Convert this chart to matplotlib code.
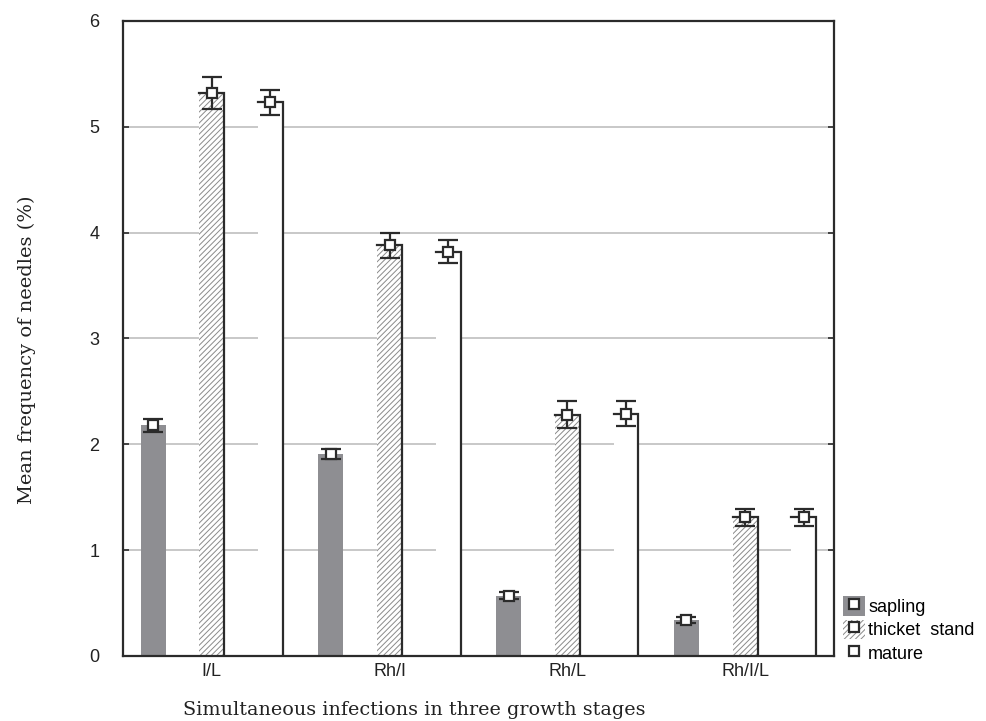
import numpy as np
import matplotlib
matplotlib.use('Agg')
import matplotlib.pyplot as plt
from matplotlib.patches import Patch
from matplotlib.lines import Line2D
from matplotlib.legend_handler import HandlerTuple

groups = ['I/L', 'Rh/I', 'Rh/L', 'Rh/I/L']
stages = ['sapling', 'thicket  stand', 'mature']
sapling = [2.18, 1.91, 0.57, 0.34]
sapling_err = [0.06, 0.05, 0.03, 0.03]
thicket = [5.32, 3.88, 2.28, 1.31]
thicket_err = [0.15, 0.12, 0.13, 0.08]
mature = [5.23, 3.82, 2.29, 1.31]
mature_err = [0.12, 0.11, 0.12, 0.08]

plt.rcParams['hatch.linewidth'] = 0.7
dark = '#2b2b2b'
grey = '#8e8e92'

fig = plt.figure(figsize=(9.86, 7.21), dpi=100)
ax = fig.add_axes([0.1247, 0.0902, 0.7211, 0.8807])

x = np.arange(len(groups))
off = 0.33
w = 0.14

ax.set_axisbelow(True)
ax.yaxis.grid(True, color='#c4c4c4', linewidth=1.3)

# sapling: grey, no outline
ax.bar(x - off, sapling, w, color=grey, linewidth=0, zorder=2)
# thicket stand: hatched
ax.bar(x, thicket, w, facecolor='white', edgecolor='#8a8a8a', hatch='//////',
       linewidth=0, zorder=2)
# mature: white
ax.bar(x + off, mature, w, facecolor='white', linewidth=0, zorder=2)

# top and right edges of thicket/mature bars
for xs, vals in [(x, thicket), (x + off, mature)]:
    for xi, v in zip(xs, vals):
        ax.plot([xi - w / 2, xi + w / 2, xi + w / 2], [v, v, 0],
                color=dark, linewidth=1.6, zorder=3, solid_joinstyle='miter')

for xs, vals, errs in [(x - off, sapling, sapling_err), (x, thicket, thicket_err),
                       (x + off, mature, mature_err)]:
    ax.errorbar(xs, vals, yerr=errs, fmt='s', color=dark, ecolor=dark,
                elinewidth=1.6, capsize=7, capthick=1.6, markersize=7.5,
                markerfacecolor='white', markeredgecolor=dark,
                markeredgewidth=1.6, zorder=4)

ax.set_xlim(-0.5, 3.5)
ax.set_ylim(0, 6)
ax.set_xticks(x)
ax.set_xticklabels(groups)
ax.set_yticks(range(0, 7))
for s in ax.spines.values():
    s.set_color(dark)
    s.set_linewidth(1.6)
ax.tick_params(axis='both', direction='in', length=4, width=1.2, color=dark,
               labelsize=13, labelcolor='#222222')
ax.tick_params(axis='y', right=True, pad=17)
ax.tick_params(axis='x', pad=5)
for lab in ax.get_xticklabels() + ax.get_yticklabels():
    lab.set_family('Liberation Sans')

ax.set_xlabel('Simultaneous infections in three growth stages',
              family='DejaVu Serif', fontsize=13.8, color='#222222')
ax.set_ylabel('Mean frequency of needles (%)',
              family='DejaVu Serif', fontsize=14, color='#222222')
ax.xaxis.set_label_coords(0.41, -0.071)
ax.yaxis.set_label_coords(-0.123, 0.482)

mk = Line2D([], [], marker='s', linestyle='', markersize=7,
            markerfacecolor='white', markeredgecolor=dark, markeredgewidth=1.6)
h1 = Patch(facecolor=grey, linewidth=0)
h2 = Patch(facecolor='white', edgecolor='#8a8a8a', hatch='//////', linewidth=0)
h3 = Patch(facecolor='white', edgecolor='white', linewidth=0)
leg = fig.legend([(h1, mk), (h2, mk), (h3, mk)], stages,
                 handler_map={tuple: HandlerTuple(ndivide=1)},
                 loc='upper left', bbox_to_anchor=(843 / 986, 1 - 596 / 721),
                 frameon=False, handlelength=1.2, handleheight=1.3,
                 handletextpad=0.2, labelspacing=0.2, borderpad=0,
                 borderaxespad=0, prop={'family': 'Liberation Sans', 'size': 13})

fig.savefig('out.png', dpi=100)
